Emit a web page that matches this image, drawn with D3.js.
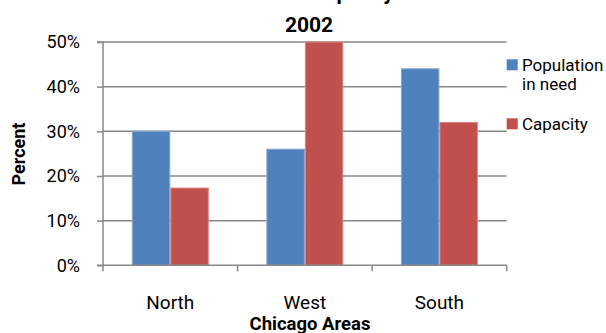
<!DOCTYPE html>
<html><head><meta charset="utf-8">
<script src="https://cdn.jsdelivr.net/npm/d3@7"></script>
<style>body{margin:0;background:#fff}svg{display:block}text{font-family:Roboto,"Liberation Sans",sans-serif}</style>
</head><body>
<svg id="c" width="606" height="333"></svg>
<script>
const categories = ["North", "West", "South"];
const seriesNames = ["Population in need", "Capacity"];
const population = [30, 26, 44];
const capacity = [17.3, 50, 32];
const yTicks = [0, 10, 20, 30, 40, 50];
const titleLines = ["Need vs. Capacity", "2002"];
const xTitle = "Chicago Areas";
const yTitle = "Percent";
const colors = ["#4F81BD", "#C0504D"];
const strokes = ["#86a6d2", "#d68885"];

const svg = d3.select("#c");
const L = 103, R = 506.7, T = 42, B = 265.3;
const x0 = d3.scaleBand().domain(categories).range([L, R]).padding(0);
const bw = x0.bandwidth();
const x1 = d3.scaleBand().domain(seriesNames).range([bw*0.214, bw*(1-0.214)]).padding(0);
const y = d3.scaleLinear().domain([0, 50]).range([B, T]);
const grid = "#888";

// gridlines
svg.append("g").selectAll("line").data(yTicks.filter(d=>d>0)).join("line")
  .attr("x1", L).attr("x2", R).attr("y1", d=>y(d)).attr("y2", d=>y(d))
  .attr("stroke", grid).attr("stroke-width", 1.5);

// bars
const data = categories.map((c,i)=>({c, vals:[population[i], capacity[i]]}));
const g = svg.append("g").selectAll("g").data(data).join("g")
  .attr("transform", d=>`translate(${x0(d.c)},0)`);
g.selectAll("rect").data(d=>d.vals.map((v,j)=>({v,j}))).join("rect")
  .attr("x", d=>x1(seriesNames[d.j])+0.5).attr("width", x1.bandwidth()-1)
  .attr("y", d=>y(d.v)).attr("height", d=>y(0)-y(d.v))
  .attr("fill", d=>colors[d.j]).attr("stroke", d=>strokes[d.j]).attr("stroke-width", 1);

// y axis
const yAxis = d3.axisLeft(y).tickValues(yTicks).tickSize(6).tickFormat(d=>d+"%").tickPadding(17);
const ya = svg.append("g").attr("transform", `translate(${L},0)`).call(yAxis);
ya.select(".domain").attr("stroke", grid).attr("stroke-width", 1.5).attr("d", `M-6,${T}H0V${B}H-6`);
ya.selectAll(".tick line").attr("stroke", grid).attr("stroke-width", 1.5);
ya.selectAll(".tick text").attr("font-size", 18).attr("fill", "#000").attr("font-family", "Roboto");

// x axis
const xTickPos = categories.map(c=>x0(c)).concat([R]);
svg.append("line").attr("x1", L).attr("x2", R).attr("y1", B).attr("y2", B).attr("stroke", grid).attr("stroke-width", 1.5);
svg.append("g").selectAll("line").data(xTickPos).join("line")
  .attr("x1", d=>d).attr("x2", d=>d).attr("y1", B).attr("y2", B+6).attr("stroke", grid).attr("stroke-width", 1.5);
const xAxis = d3.axisBottom(x0).tickSize(0).tickPadding(0);
const xa = svg.append("g").attr("transform", `translate(0,${B})`).call(xAxis);
xa.select(".domain").remove();
xa.selectAll(".tick text").attr("font-size", 19).attr("fill", "#000").attr("font-family", "Roboto")
  .attr("dy", null).attr("y", 309-B);

// titles
svg.append("text").attr("x", 309).attr("y", 0).attr("text-anchor", "middle")
  .attr("font-size", 21).attr("font-weight", "bold").text(titleLines[0]);
svg.append("text").attr("x", 309).attr("y", 32.3).attr("text-anchor", "middle")
  .attr("font-size", 21).attr("font-weight", "bold").text(titleLines[1]);
svg.append("text").attr("x", 310).attr("y", 330).attr("text-anchor", "middle")
  .attr("font-size", 18.5).attr("font-weight", "bold").text(xTitle);
svg.append("text").attr("transform", "translate(25,154) rotate(-90)").attr("text-anchor", "middle")
  .attr("font-size", 18).attr("font-weight", "bold").text(yTitle);

// legend
const leg = [
  {i:0, sy:59.3, lines:["Population","in need"], by:[70.7, 90]},
  {i:1, sy:118.3, lines:["Capacity"], by:[130]}
];
leg.forEach(l=>{
  svg.append("rect").attr("x", 506.7).attr("y", l.sy).attr("width", 11).attr("height", 11).attr("fill", colors[l.i]);
  l.lines.forEach((t,k)=>svg.append("text").attr("x", 522).attr("y", l.by[k]).attr("font-size", 17).text(t));
});
</script>
</body></html>
